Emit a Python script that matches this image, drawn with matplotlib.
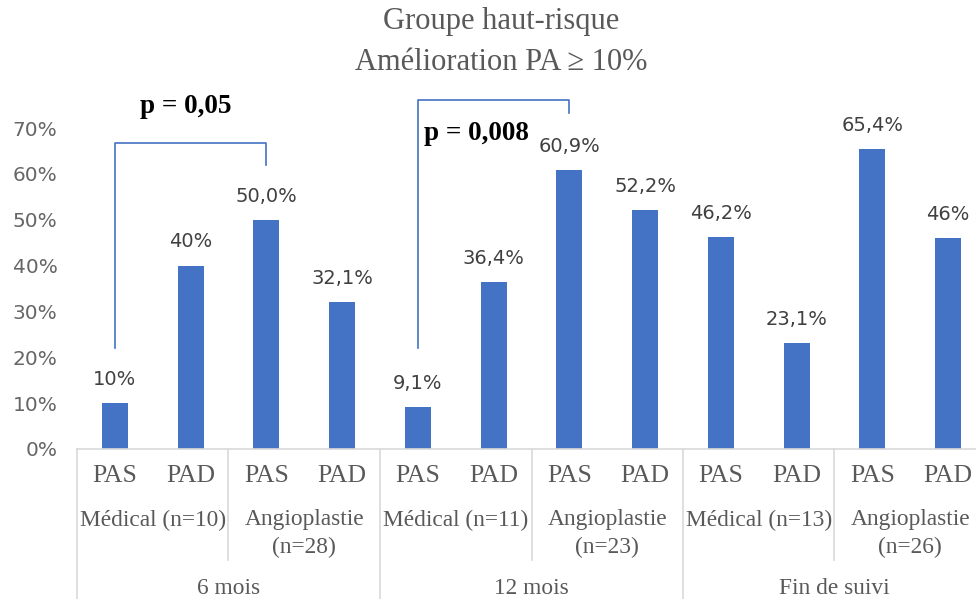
import matplotlib
matplotlib.use("Agg")
import matplotlib.pyplot as plt
import matplotlib.transforms as mtransforms
import numpy as np

# data
periods = ["6 mois", "12 mois", "Fin de suivi"]
groups = ["Médical (n=10)", "Angioplastie\n(n=28)",
          "Médical (n=11)", "Angioplastie\n(n=23)",
          "Médical (n=13)", "Angioplastie\n(n=26)"]
measures = ["PAS", "PAD"] * 6
values = [10.0, 40.0, 50.0, 32.1, 9.1, 36.4, 60.9, 52.2, 46.2, 23.1, 65.4, 46.0]
value_labels = ["10%", "40%", "50,0%", "32,1%", "9,1%", "36,4%",
                "60,9%", "52,2%", "46,2%", "23,1%", "65,4%", "46%"]
yticks = [0, 10, 20, 30, 40, 50, 60, 70]

BLUE = "#4472C4"
GREY = "#595959"
LINE = "#D9D9D9"
W, H = 976, 599

fig = plt.figure(figsize=(W / 100, H / 100), dpi=100)
# plot area in pixels: x 77..986 (runs off the right edge), y 128..449
ax = fig.add_axes([77 / W, 1 - 449 / H, 909 / W, 321 / H])

x = np.arange(len(values))
ax.bar(x, values, width=0.34, color=BLUE, zorder=2)
ax.set_xlim(-0.5, len(values) - 0.5)
ax.set_ylim(0, 70)

for s in ["top", "right", "left"]:
    ax.spines[s].set_visible(False)
ax.spines["bottom"].set_color(LINE)
ax.spines["bottom"].set_linewidth(1.2)

ax.set_xticks([])
ax.set_yticks(yticks)
ax.set_yticklabels([f"{t}%" for t in yticks], fontsize=14.5, color="#666666",
                   family="DejaVu Sans")
ax.tick_params(axis="y", length=0, pad=14)

# value labels above the bars
for xi, v, lab in zip(x, values, value_labels):
    ax.annotate(lab, (xi, v), xytext=(0, 17), textcoords="offset points",
                ha="center", va="center", fontsize=14, color="#404040",
                family="DejaVu Sans")

# multi-level category axis below the plot
tr = mtransforms.blended_transform_factory(ax.transData, fig.transFigure)

def fy(py):
    return 1 - py / H

serif = "Liberation Serif"
for xi, m in zip(x, measures):
    ax.text(xi, fy(476), m, transform=tr, ha="center", va="center",
            fontsize=18.5, color=GREY, family=serif, clip_on=False)

for i, g in enumerate(groups):
    lines = g.split("\n")
    for j, ln in enumerate(lines):
        ax.text(2 * i + 0.5, fy(520 + 27 * j), ln, transform=tr, ha="center",
                va="center", fontsize=16.8, color=GREY, family=serif,
                clip_on=False)

for i, p in enumerate(periods):
    ax.text(4 * i + 1.5, fy(589), p, transform=tr, ha="center", va="center",
            fontsize=16.8, color=GREY, family=serif, clip_on=False)

# separators: short ones between treatment groups, long ones between periods
for i in range(1, 6):
    xs = 2 * i - 0.5
    bottom = H if i % 2 == 0 else 560
    ax.plot([xs, xs], [fy(449), fy(bottom)], transform=tr, color=LINE,
            lw=1.2, clip_on=False)
ax.plot([-0.5, -0.5], [fy(449), fy(H)], transform=tr, color=LINE, lw=1.2,
        clip_on=False)

# significance brackets
ax.plot([0, 0, 2, 2], [22, 66.7, 66.7, 62], color=BLUE, lw=1.2, clip_on=False)
ax.plot([4, 4, 6, 6], [22, 76.1, 76.1, 73.3], color=BLUE, lw=1.2, clip_on=False)
ax.text(0.93, 74.6, "p = 0,05", ha="center", va="center", fontsize=19.5,
        fontweight="bold", family=serif, color="black", clip_on=False)
ax.text(4.77, 68.9, "p = 0,008", ha="center", va="center", fontsize=19.5,
        fontweight="bold", family=serif, color="black", clip_on=False)

# title
fig.text(0.513, fy(22), "Groupe haut-risque", ha="center", va="center",
         fontsize=22, color=GREY, family=serif)
fig.text(0.513, fy(62), "Amélioration PA ≥ 10%", ha="center", va="center",
         fontsize=22, color=GREY, family=serif)

fig.savefig("out.png", dpi=100)
